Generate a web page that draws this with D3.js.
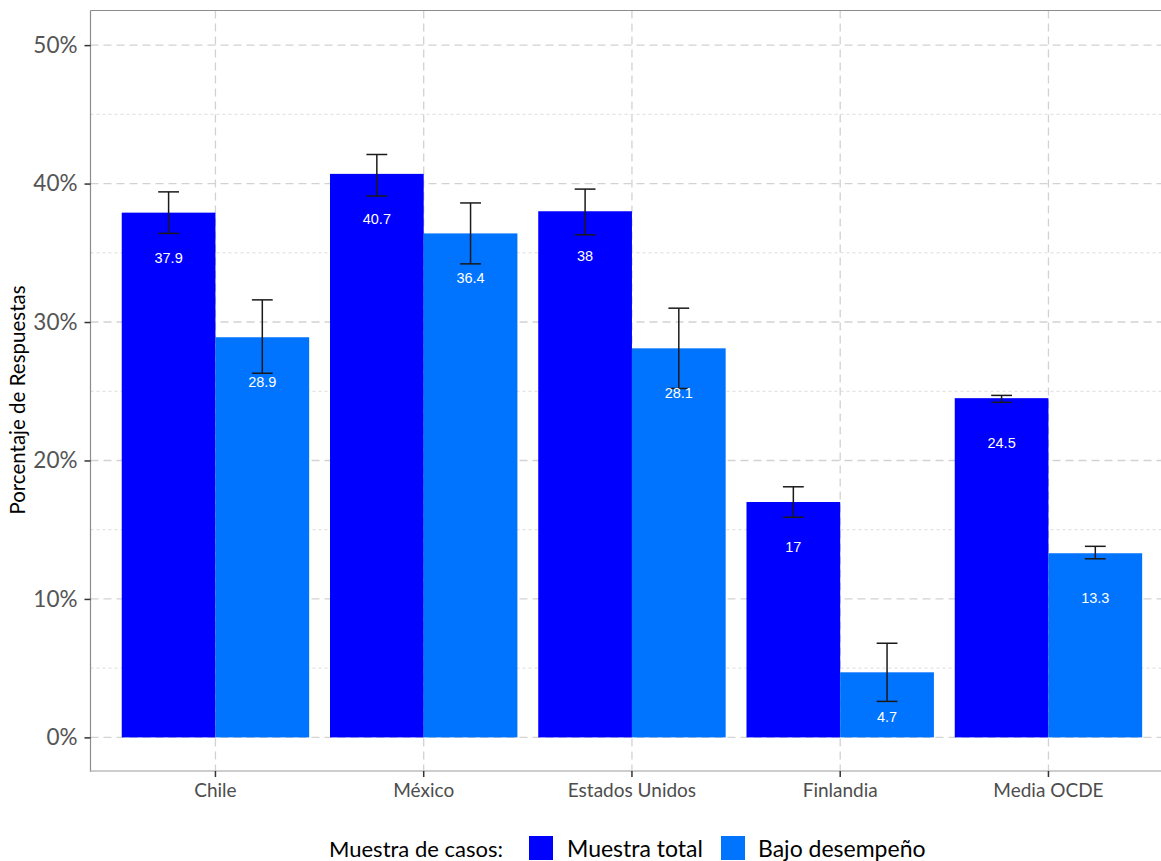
<!DOCTYPE html>
<html>
<head>
<meta charset="utf-8">
<script src="https://cdn.jsdelivr.net/npm/d3@7"></script>
<style>
  html, body { margin: 0; padding: 0; background: #fff; }
  svg { display: block; }
</style>
</head>
<body>
<svg id="chart" width="1161" height="861"></svg>
<script>
// ---- data ----
const categories = ["Chile", "México", "Estados Unidos", "Finlandia", "Media OCDE"];
const seriesNames = ["Muestra total", "Bajo desempeño"];
const totalValues = [37.9, 40.7, 38, 17, 24.5];
const lowValues = [28.9, 36.4, 28.1, 4.7, 13.3];
const totalLower = [36.4, 39.1, 36.3, 15.9, 24.2];
const totalUpper = [39.4, 42.1, 39.6, 18.1, 24.7];
const lowLower = [26.3, 34.2, 25.2, 2.6, 12.9];
const lowUpper = [31.6, 38.6, 31.0, 6.8, 13.8];
const yTicks = [0, 10, 20, 30, 40, 50];
const yMinorTicks = [5, 15, 25, 35, 45];

const colors = { "Muestra total": "#0000FF", "Bajo desempeño": "#0073FF" };

const rows = [];
categories.forEach((c, i) => {
  rows.push({ cat: c, series: seriesNames[0], value: totalValues[i], lo: totalLower[i], hi: totalUpper[i] });
  rows.push({ cat: c, series: seriesNames[1], value: lowValues[i], lo: lowLower[i], hi: lowUpper[i] });
});

const svg = d3.select("#chart");
const pLeft = 90.5, pTop = 10.5, pBottom = 772;
const step = 208.25;
const pRight = pLeft + 5.2 * step;

const x = d3.scaleBand().domain(categories).range([pLeft, pRight]).paddingInner(0.1).paddingOuter(0.15);
const xs = d3.scaleBand().domain(seriesNames).range([0, x.bandwidth()]);
const y = d3.scaleLinear().domain([-2.5, 52.5]).range([pBottom, pTop]);
const xc = c => x(c) + x.bandwidth() / 2;

// grid
const g = svg.append("g");
g.selectAll(".minor").data(yMinorTicks).join("line")
  .attr("x1", pLeft).attr("x2", pRight).attr("y1", d => y(d)).attr("y2", d => y(d))
  .attr("stroke", "#dcdcdc").attr("stroke-width", 1).attr("stroke-dasharray", "3,3");
g.selectAll(".major").data(yTicks).join("line")
  .attr("x1", pLeft).attr("x2", pRight).attr("y1", d => y(d)).attr("y2", d => y(d))
  .attr("stroke", "#d2d2d2").attr("stroke-width", 1.3).attr("stroke-dasharray", "8,5");
g.selectAll(".vmajor").data(categories).join("line")
  .attr("x1", d => xc(d)).attr("x2", d => xc(d)).attr("y1", pTop).attr("y2", pBottom)
  .attr("stroke", "#d2d2d2").attr("stroke-width", 1.3).attr("stroke-dasharray", "8,5");

// bars
svg.append("g").selectAll("rect").data(rows).join("rect")
  .attr("x", d => x(d.cat) + xs(d.series))
  .attr("width", xs.bandwidth())
  .attr("y", d => y(d.value))
  .attr("height", d => y(0) - y(d.value))
  .attr("fill", d => colors[d.series]);

// error bars
const eb = svg.append("g").attr("stroke", "#1a1a1a").attr("stroke-width", 1.5).attr("fill", "none");
const capW = 0.1 * step;
rows.forEach(d => {
  const cx = x(d.cat) + xs(d.series) + xs.bandwidth() / 2;
  eb.append("line").attr("x1", cx).attr("x2", cx).attr("y1", y(d.lo)).attr("y2", y(d.hi));
  eb.append("line").attr("x1", cx - capW / 2).attr("x2", cx + capW / 2).attr("y1", y(d.lo)).attr("y2", y(d.lo));
  eb.append("line").attr("x1", cx - capW / 2).attr("x2", cx + capW / 2).attr("y1", y(d.hi)).attr("y2", y(d.hi));
});

// value labels
svg.append("g").selectAll("text").data(rows).join("text")
  .attr("x", d => x(d.cat) + xs(d.series) + xs.bandwidth() / 2)
  .attr("y", d => y(d.value - 3.25))
  .attr("dy", "0.35em")
  .attr("text-anchor", "middle")
  .attr("fill", "#fff")
  .attr("font-family", "Liberation Sans, Arial, sans-serif")
  .attr("font-size", 14.5)
  .text(d => String(d.value));

// panel border (left, top) and bottom line
svg.append("line").attr("x1", pLeft).attr("x2", pLeft).attr("y1", pTop).attr("y2", pBottom).attr("stroke", "#8c8c8c").attr("stroke-width", 1.2);
svg.append("line").attr("x1", pLeft).attr("x2", pRight).attr("y1", pTop).attr("y2", pTop).attr("stroke", "#8c8c8c").attr("stroke-width", 1.2);
svg.append("line").attr("x1", pLeft).attr("x2", pRight).attr("y1", pBottom - 1).attr("y2", pBottom - 1).attr("stroke", "#bdbdbd").attr("stroke-width", 1.5);

// y axis
const yAxis = svg.append("g").attr("transform", `translate(${pLeft},0)`)
  .call(d3.axisLeft(y).tickValues(yTicks).tickFormat(d => d + "%").tickSize(6).tickPadding(7));
yAxis.select(".domain").remove();
yAxis.selectAll(".tick line").attr("stroke", "#333").attr("stroke-width", 1.5);
yAxis.selectAll(".tick text").attr("fill", "#555").attr("font-family", "Lato, sans-serif").attr("font-size", 22.5);

// x axis
const xAxis = svg.append("g").attr("transform", `translate(0,${pBottom - 1})`)
  .call(d3.axisBottom(x).tickSize(6).tickPadding(7));
xAxis.select(".domain").remove();
xAxis.selectAll(".tick line").attr("stroke", "#333").attr("stroke-width", 1.5);
xAxis.selectAll(".tick text").attr("fill", "#4d4d4d").attr("font-family", "Lato, sans-serif").attr("font-size", 19);

// y title
svg.append("text")
  .attr("transform", "translate(25,400) rotate(-90)")
  .attr("text-anchor", "middle")
  .attr("font-family", "Lato, sans-serif")
  .attr("font-size", 20.5)
  .attr("fill", "#000")
  .text("Porcentaje de Respuestas");

// legend
const lg = svg.append("g").attr("font-family", "Lato, sans-serif").attr("fill", "#000");
lg.append("text").attr("x", 329).attr("y", 857).attr("font-size", 22).text("Muestra de casos:");
const keyX = [529, 721];
const labX = [567, 758];
seriesNames.forEach((s, i) => {
  lg.append("rect").attr("x", keyX[i]).attr("y", 836).attr("width", 24).attr("height", 24).attr("fill", colors[s]);
  lg.append("text").attr("x", labX[i]).attr("y", 857).attr("font-size", 23).text(s);
});
</script>
</body>
</html>
